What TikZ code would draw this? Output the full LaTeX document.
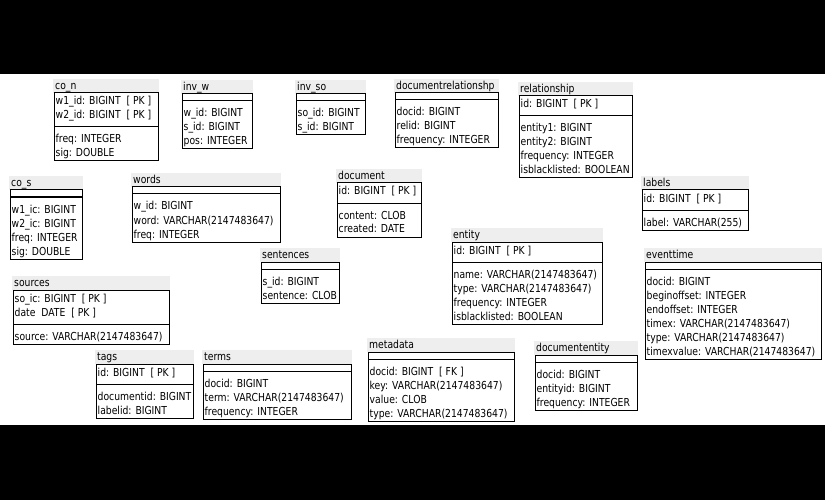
\documentclass[tikz,border=0pt]{standalone}
\usepackage{fontspec}
\setmainfont{DejaVu Sans}[FakeStretch=0.84]
\definecolor{titlebg}{RGB}{238,238,238}
\tikzset{
  tblline/.style={draw=black,line width=1pt},
  titletext/.style={anchor=base west,inner sep=0pt,font=\fontsize{11}{14}\selectfont},
  rowtext/.style={anchor=base west,inner sep=0pt,font=\fontsize{11}{14}\selectfont},
}
% #1 id, #2 left, #3 right, #4 box top, #5 title, #6 n pk rows, #7 pk rows, #8 n attr rows, #9 attr rows
\newcommand\dbtab[9]{%
  \pgfmathsetmacro\sepy{#4+ifthenelse(#6==0,7,14*#6+6)}%
  \pgfmathsetmacro\boty{\sepy+14*#8+6}%
  \fill[titlebg] (#2-1,#4-14) rectangle (#3+1,#4);
  \node[titletext] (#1) at (#2+1,#4-3.5) {#5};
  \draw[tblline] (#2,#4) rectangle (#3,\boty);
  \draw[tblline] (#2,\sepy) -- (#3,\sepy);
  \ifnum#6>0
    \foreach \t [count=\i] in {#7} {\node[rowtext] (#1-k\i) at (#2+1.5,#4+14*\i-2) {\t};}
  \fi
  \foreach \t [count=\i] in {#9} {\node[rowtext] (#1-a\i) at (#2+1.5,\sepy+14*\i+2) {\t};}
}
\begin{document}
\begin{tikzpicture}[x=1pt,y=-1pt]
\useasboundingbox (0,0) rectangle (825,500);
\fill[white] (0,0) rectangle (825,500);
\fill[black] (0,0) rectangle (825,74);
\fill[black] (0,425) rectangle (825,500);

\dbtab{con}{54}{158}{93}{co\_n}{2}{w1\_id: BIGINT\ \ [ PK ],w2\_id: BIGINT\ \ [ PK ]}{2}{freq: INTEGER,sig: DOUBLE}
\dbtab{invw}{182}{252}{94}{inv\_w}{0}{}{3}{w\_id: BIGINT,s\_id: BIGINT,pos: INTEGER}
\dbtab{invso}{296}{365}{94}{inv\_so}{0}{}{2}{so\_id: BIGINT,s\_id: BIGINT}
\dbtab{docrel}{395}{498}{93}{documentrelationshp}{0}{}{3}{docid: BIGINT,relid: BIGINT,frequency: INTEGER}
\dbtab{rel}{519}{632}{96}{relationship}{1}{id: BIGINT\ \ [ PK ]}{4}{entity1: BIGINT,entity2: BIGINT,frequency: INTEGER,isblacklisted: BOOLEAN}
\dbtab{cos}{10}{82}{190}{co\_s}{0}{}{4}{w1\_ic: BIGINT,w2\_ic: BIGINT,freq: INTEGER,sig: DOUBLE}
\dbtab{words}{132}{280}{187}{words}{0}{}{3}{w\_id: BIGINT,word: VARCHAR(2147483647),freq: INTEGER}
\dbtab{document}{337}{421}{183}{document}{1}{id: BIGINT\ \ [ PK ]}{2}{content: CLOB,created: DATE}
\dbtab{labels}{642}{748}{190}{labels}{1}{id: BIGINT\ \ [ PK ]}{1}{label: VARCHAR(255)}
\dbtab{sentences}{261}{339}{262}{sentences}{0}{}{2}{s\_id: BIGINT,sentence: CLOB}
\dbtab{entity}{452}{602}{242}{entity}{1}{id: BIGINT\ \ [ PK ]}{4}{name: VARCHAR(2147483647),type: VARCHAR(2147483647),frequency: INTEGER,isblacklisted: BOOLEAN}
\dbtab{eventtime}{645}{821}{262}{eventtime}{0}{}{6}{docid: BIGINT,beginoffset: INTEGER,endoffset: INTEGER,timex: VARCHAR(2147483647),type: VARCHAR(2147483647),timexvalue: VARCHAR(2147483647)}
\dbtab{sources}{13}{169}{290}{sources}{2}{so\_ic: BIGINT\ \ [ PK ],date\ \ DATE\ \ [ PK ]}{1}{source: VARCHAR(2147483647)}
\dbtab{tags}{96}{193}{364}{tags}{1}{id: BIGINT\ \ [ PK ]}{2}{documentid: BIGINT,labelid: BIGINT}
\dbtab{terms}{203}{351}{364}{terms}{0}{}{3}{docid: BIGINT,term: VARCHAR(2147483647),frequency: INTEGER}
\dbtab{metadata}{368}{514}{352}{metadata}{0}{}{4}{docid: BIGINT\ \ [ FK ],key: VARCHAR(2147483647),value: CLOB,type: VARCHAR(2147483647)}
\dbtab{docent}{535}{637}{355}{documententity}{0}{}{3}{docid: BIGINT,entityid: BIGINT,frequency: INTEGER}
\end{tikzpicture}
\end{document}
